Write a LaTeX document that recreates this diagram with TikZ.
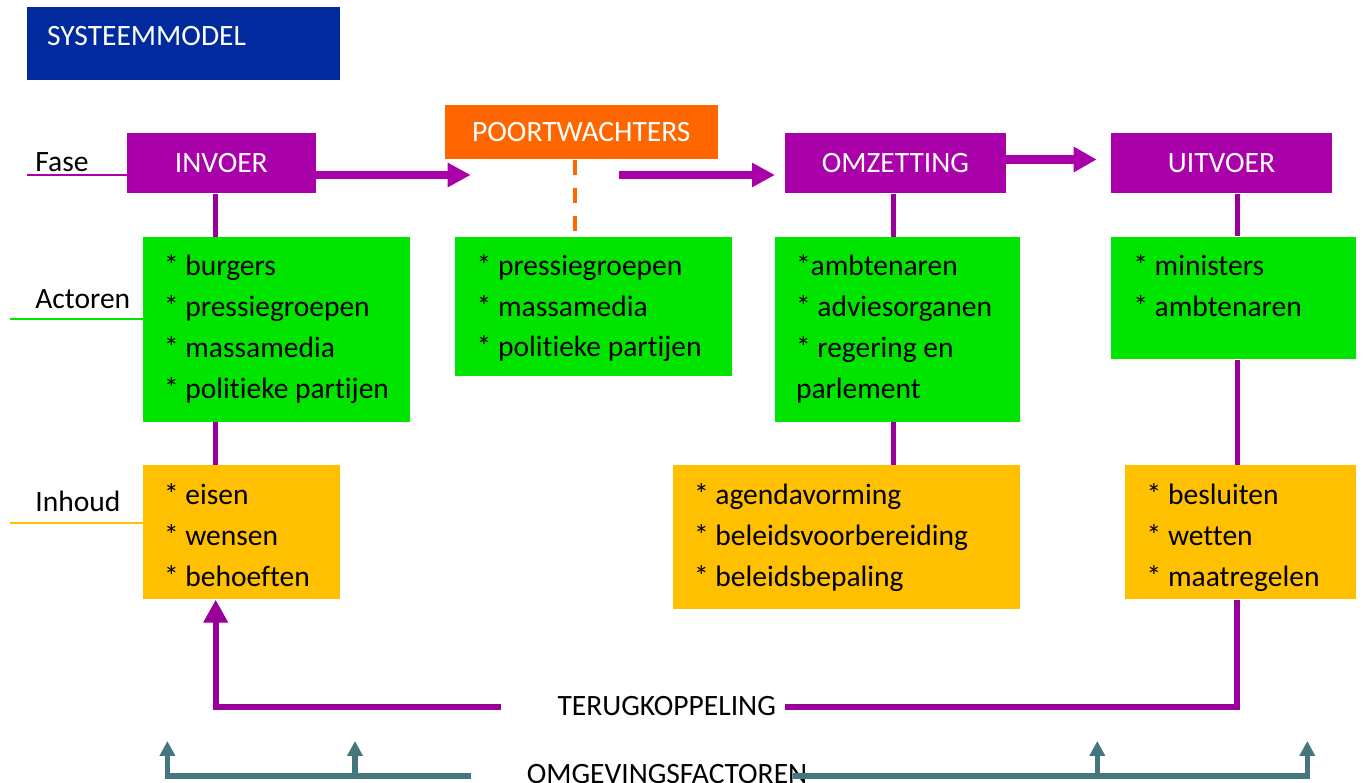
\documentclass[tikz,border=0pt]{standalone}
\usepackage{fontspec}
\setmainfont{Carlito}[Ligatures=NoCommon]
\usetikzlibrary{arrows.meta,fit}
\definecolor{paars}{HTML}{AA00AA}
\definecolor{paarslijn}{HTML}{990099}
\definecolor{groen}{HTML}{00E400}
\definecolor{geel}{HTML}{FFC000}
\definecolor{oranje}{HTML}{FF6600}
\definecolor{blauw}{HTML}{002A9E}
\definecolor{petrol}{HTML}{45757D}
\newcommand{\tekst}{\fontsize{16.8}{23.25}\selectfont}
\tikzset{
  blok/.style={inner sep=0pt, text=white, font=\tekst},
  fasebox/.style={inner sep=0pt, fill=paars},
  actorbox/.style={inner sep=0pt, fill=groen},
  inhoudbox/.style={inner sep=0pt, fill=geel},
  lijst/.style={anchor=north west, inner sep=0pt, align=left, font=\tekst},
  rijlabel/.style={anchor=base west, inner sep=0pt, font=\tekst},
  pijl/.style={paars, line width=0.152cm, -{Triangle[length=0.46cm,width=0.46cm]}},
  stam/.style={paarslijn, line width=0.1cm},
  terug/.style={paarslijn, line width=0.12cm},
  omg/.style={petrol, line width=0.11cm},
  omgpijl/.style={omg, -{Triangle[length=0.3cm,width=0.3cm]}}
}
\begin{document}
\begin{tikzpicture}[x=0.02cm, y=-0.02cm]
\useasboundingbox (0,0) rectangle (1363,783);
\node[fill=blauw, inner sep=0pt, fit={(27,6.7) (340,80)}] (titel) {};
\node[rijlabel, text=white] (titeltekst) at (46.7,46) {SYSTEEMMODEL};
% fasen
\node[fasebox, fit={(127,133.3) (315.7,193.3)}] (invoer) {};
\node[fill=oranje, inner sep=0pt, fit={(445,105) (717.7,159.3)}] (poort) {};
\node[fasebox, fit={(785,132.7) (1006,193.3)}] (omzetting) {};
\node[fasebox, fit={(1111,132.7) (1332,193.3)}] (uitvoer) {};
\node[blok] (invoertekst) at (invoer.center) {INVOER};
\node[blok] (poorttekst) at (poort.center) {POORTWACHTERS};
\node[blok] (omzettingtekst) at (omzetting.center) {OMZETTING};
\node[blok] (uitvoertekst) at (uitvoer.center) {UITVOER};
% actoren
\node[actorbox, fit={(143,237) (410,421.7)}] (actor1) {};
\node[lijst] (actor1tekst) at ([shift={(21,10)}]actor1.north west) {\strut* burgers\\* pressiegroepen\\* massamedia\\* politieke partijen};
\node[actorbox, fit={(455,236.7) (731.7,375.7)}] (actor2) {};
\node[lijst] (actor2tekst) at ([shift={(21.7,10)}]actor2.north west) {\strut* pressiegroepen\\* massamedia\\* politieke partijen};
\node[actorbox, fit={(775,237) (1020,421.7)}] (actor3) {};
\node[lijst] (actor3tekst) at ([shift={(21,10)}]actor3.north west) {\strut*ambtenaren\\* adviesorganen\\* regering en\\parlement};
\node[actorbox, fit={(1111,236.7) (1356,359.3)}] (actor4) {};
\node[lijst] (actor4tekst) at ([shift={(22.3,10)}]actor4.north west) {\strut* ministers\\* ambtenaren};
% inhoud
\node[inhoudbox, fit={(143,465) (340,599.3)}] (inhoud1) {};
\node[lijst] (inhoud1tekst) at ([shift={(21,11)}]inhoud1.north west) {\strut* eisen\\* wensen\\* behoeften};
\node[inhoudbox, fit={(673.3,465) (1020,609.3)}] (inhoud3) {};
\node[lijst] (inhoud3tekst) at ([shift={(20.7,11)}]inhoud3.north west) {\strut* agendavorming\\* beleidsvoorbereiding\\* beleidsbepaling};
\node[inhoudbox, fit={(1125,465) (1356,599.3)}] (inhoud4) {};
\node[lijst] (inhoud4tekst) at ([shift={(21.7,11)}]inhoud4.north west) {\strut* besluiten\\* wetten\\* maatregelen};
% rijen
\node[rijlabel] (fase) at (35,171.7) {Fase};
\node[rijlabel] (actoren) at (35,308.3) {Actoren};
\node[rijlabel] (inhoud) at (35,511.7) {Inhoud};
\coordinate (faselijn) at (27,175);
\coordinate (actorlijn) at (10,319);
\coordinate (inhoudlijn) at (10,523.3);
\draw[paars, line width=0.04cm] (faselijn) -- (faselijn -| invoer.west);
\draw[groen, line width=0.04cm] (actorlijn) -- (actorlijn -| actor1.west);
\draw[geel, line width=0.04cm] (inhoudlijn) -- (inhoudlijn -| inhoud1.west);
% kolommen
\coordinate (k1) at (215.7,0);
\coordinate (k2) at (575,0);
\coordinate (k3) at (893.3,0);
\coordinate (k4) at (1237,0);
\draw[stam] (invoer.south -| k1) -- (actor1.north -| k1);
\draw[stam] (actor1.south -| k1) -- (inhoud1.north -| k1);
\draw[stam] (omzetting.south -| k3) -- (actor3.north -| k3);
\draw[stam] (actor3.south -| k3) -- (inhoud3.north -| k3);
\draw[stam] (uitvoer.south -| k4) -- (actor4.north -| k4);
\draw[stam] (actor4.south -| k4) -- (inhoud4.north -| k4);
\draw[oranje, line width=0.085cm, dash pattern=on 0.3cm off 0.26cm, shorten >=0.1cm] (poort.south -| k2) -- (actor2.north -| k2);
% pijlen
\coordinate (p1) at (470.7,175);
\coordinate (p2s) at (619,175);
\coordinate (p2e) at (775,175);
\coordinate (p3) at (1096.7,159.5);
\draw[pijl] (invoer.east |- p1) -- (p1);
\draw[pijl] (p2s) -- (p2e);
\draw[pijl, line width=0.17cm, -{Triangle[length=0.46cm,width=0.48cm]}] (omzetting.east |- p3) -- (p3);
% terugkoppeling
\node[rijlabel, anchor=base] (terugkoppeling) at (666.7,715) {TERUGKOPPELING};
\coordinate (tk-l) at (500.7,706.7);
\coordinate (tk-r) at (785,706.7);
\draw[terug] (inhoud4.south -| k4) |- (tk-r);
\draw[terug, -{Triangle[length=0.46cm,width=0.47cm]}] (tk-l) -| (inhoud1.south -| k1);
% omgevingsfactoren
\node[rijlabel, anchor=base] (omgeving) at (667,783.3) {OMGEVINGSFACTOREN};
\coordinate (o-l) at (471,776);
\coordinate (o-r) at (793.3,776);
\coordinate (o1) at (167.4,741);
\coordinate (o2) at (355,741);
\coordinate (o3) at (1097.3,741);
\coordinate (o4) at (1307.3,741);
\draw[omgpijl] (o-l) -| (o1);
\draw[omgpijl] (o2 |- o-l) -- (o2);
\draw[omgpijl] (o-r) -| (o4);
\draw[omgpijl] (o3 |- o-r) -- (o3);
\end{tikzpicture}
\end{document}
